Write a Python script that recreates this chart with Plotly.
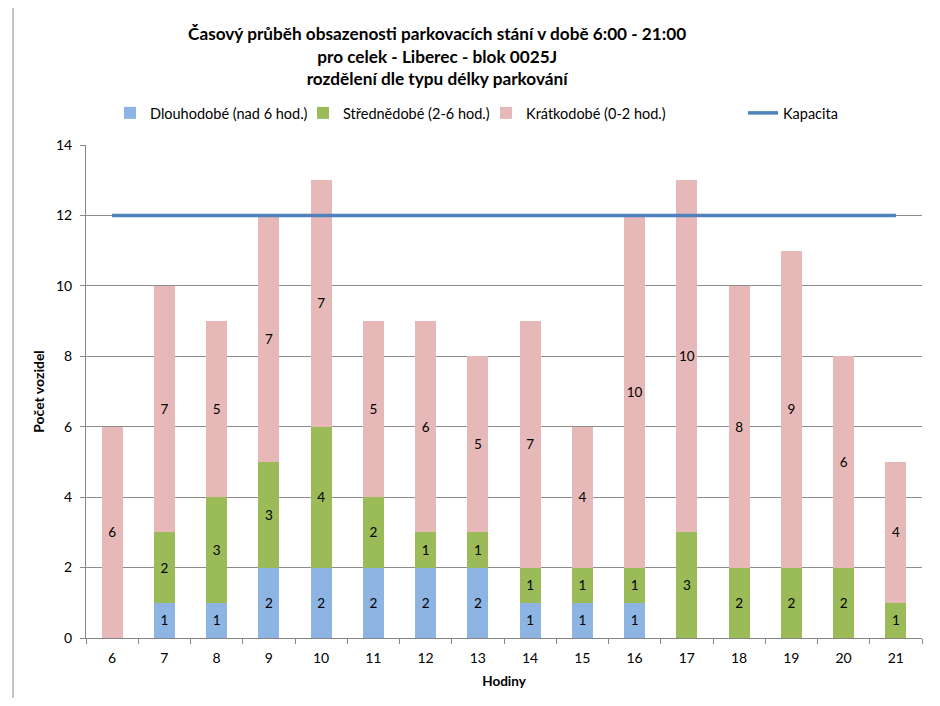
import plotly.graph_objects as go

# Data
hours = ['6', '7', '8', '9', '10', '11', '12', '13', '14', '15', '16', '17', '18', '19', '20', '21']
dlouhodobe = [0, 1, 1, 2, 2, 2, 2, 2, 1, 1, 1, 0, 0, 0, 0, 0]
strednedobe = [0, 2, 3, 3, 4, 2, 1, 1, 1, 1, 1, 3, 2, 2, 2, 1]
kratkodobe = [6, 7, 5, 7, 7, 5, 6, 5, 7, 4, 10, 10, 8, 9, 6, 4]
kapacita = [12] * len(hours)

FONT = "Lato"


def labels(vals):
    return [str(v) if v else "" for v in vals]


fig = go.Figure()

series = [
    ("Dlouhodobé (nad 6 hod.)", dlouhodobe, "#8EB4E3", "legend"),
    ("Střednědobé (2-6 hod.)", strednedobe, "#9BBB59", "legend2"),
    ("Krátkodobé (0-2 hod.)", kratkodobe, "#E6B9B8", "legend3"),
]
for name, vals, color, leg in series:
    fig.add_trace(go.Bar(
        x=hours, y=vals, name=name, legend=leg,
        marker=dict(color=color, line=dict(width=0)),
        text=labels(vals), textposition="inside", insidetextanchor="middle",
        textfont=dict(family=FONT, size=13.5, color="black"),
        constraintext="none",
    ))

fig.add_trace(go.Scatter(
    x=hours, y=kapacita, name="Kapacita", mode="lines", legend="legend4",
    line=dict(color="#4F81BD", width=3.5),
))

# outer chart frame (left and right edges)
for xp in (-0.0873, 1.0203):
    fig.add_shape(type="line", xref="paper", yref="paper",
                  x0=xp, x1=xp, y0=-0.2, y1=1.4,
                  line=dict(color="#8C8C8C", width=1))

leg_style = dict(orientation="h", xanchor="left", y=1.065, yanchor="middle",
                 font=dict(family=FONT, size=14.5), bgcolor="rgba(0,0,0,0)")

fig.update_layout(
    barmode="stack",
    bargap=0.6,
    showlegend=True,
    width=932, height=690,
    margin=dict(l=78, r=18, t=137, b=60),
    plot_bgcolor="white", paper_bgcolor="white",
    font=dict(family=FONT, size=14, color="black"),
    title=dict(
        text="Časový průběh obsazenosti parkovacích stání v době 6:00 - 21:00<br>"
             "pro celek - Liberec - blok 0025J<br>rozdělení dle typu délky parkování",
        font=dict(family=FONT, size=17.2, color="black", weight="bold"),
        x=0.42, xref="paper", xanchor="center",
        y=0.953, yref="container", yanchor="top",
    ),
    legend=dict(x=0.0287, **leg_style),
    legend2=dict(x=0.2596, **leg_style),
    legend3=dict(x=0.4785, **leg_style),
    legend4=dict(x=0.7859, **leg_style),
    xaxis=dict(
        title=dict(text="Hodiny", font=dict(family=FONT, size=13.5, weight="bold"), standoff=11),
        showline=True, linecolor="#868686", linewidth=1,
        ticks="outside", tickson="boundaries", ticklen=5, tickcolor="#868686",
        ticklabelstandoff=7,
        showgrid=False, tickfont=dict(size=14),
    ),
    yaxis=dict(
        title=dict(text="Počet vozidel", font=dict(family=FONT, size=14, weight="bold"), standoff=8),
        range=[0, 14], dtick=2,
        showline=True, linecolor="#868686", linewidth=1,
        ticks="outside", ticklen=5, tickcolor="#868686",
        ticklabelstandoff=5,
        showgrid=True, gridcolor="#8C8C8C", gridwidth=1,
        zeroline=False, tickfont=dict(size=14),
    ),
)

fig.write_html("out.html")
